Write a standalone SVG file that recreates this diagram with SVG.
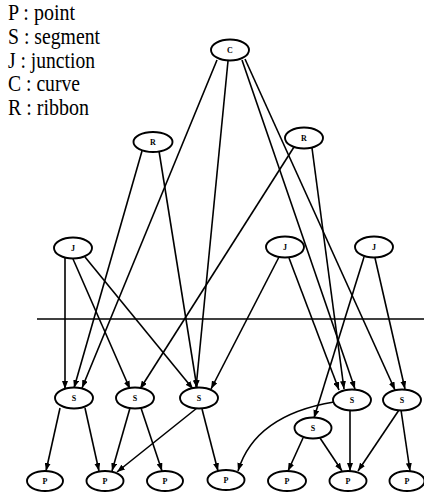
<svg xmlns="http://www.w3.org/2000/svg" width="424" height="495" viewBox="0 0 424 495">
<style>
.legend{font-family:"Liberation Serif","Times New Roman",serif;font-size:23px;fill:#000}
.node ellipse{fill:#fff;stroke:#000;stroke-width:1.9}
.node text{font-family:"Liberation Serif","Times New Roman",serif;font-size:8px;font-weight:bold;text-anchor:middle;fill:#000}
.edges line,.edges path{stroke:#000;stroke-width:1.6;fill:none;marker-end:url(#ah)}
</style>
<defs>
<marker id="ah" markerUnits="userSpaceOnUse" markerWidth="8" markerHeight="6" refX="8" refY="3" orient="auto">
<path d="M0,0 L8,3 L0,6 Z" fill="#000"/>
</marker>
</defs>
<rect width="424" height="495" fill="#fff"/>
<g id="legend">
<text class="legend" x="8" y="19.5" textLength="67" lengthAdjust="spacingAndGlyphs">P : point</text>
<text class="legend" x="8" y="43.5" textLength="92" lengthAdjust="spacingAndGlyphs">S : segment</text>
<text class="legend" x="8" y="67.5" textLength="87" lengthAdjust="spacingAndGlyphs">J : junction</text>
<text class="legend" x="8" y="90.5" textLength="72" lengthAdjust="spacingAndGlyphs">C : curve</text>
<text class="legend" x="8" y="114.5" textLength="81" lengthAdjust="spacingAndGlyphs">R : ribbon</text>
</g>
<line id="divider" x1="37" y1="319" x2="424" y2="319" stroke="#000" stroke-width="1.7"/>
<g class="edges" id="connectors">
<line x1="217" y1="60" x2="82" y2="388"/>
<line x1="228" y1="61" x2="196" y2="388"/>
<line x1="242" y1="60" x2="355" y2="389"/>
<line x1="245" y1="59" x2="395" y2="390"/>
<line x1="142" y1="151" x2="74" y2="388"/>
<line x1="159" y1="151" x2="197" y2="388"/>
<line x1="294" y1="147" x2="140" y2="389"/>
<line x1="312" y1="148" x2="344" y2="389"/>
<line x1="65" y1="258" x2="65" y2="389"/>
<line x1="73" y1="259" x2="130" y2="389"/>
<line x1="85" y1="257" x2="193" y2="389"/>
<line x1="279" y1="257" x2="211" y2="389"/>
<line x1="289" y1="258" x2="339" y2="390"/>
<line x1="364" y1="257" x2="314" y2="418"/>
<line x1="375" y1="258" x2="405" y2="389"/>
<line x1="60" y1="408" x2="46" y2="471"/>
<line x1="85" y1="408" x2="99" y2="471"/>
<line x1="130" y1="408" x2="112" y2="471"/>
<line x1="141" y1="408" x2="162" y2="471"/>
<line x1="197" y1="408" x2="117" y2="472"/>
<line x1="202" y1="409" x2="218" y2="471"/>
<path d="M334,402 Q255,415 238,471"/>
<line x1="350" y1="410" x2="350" y2="471"/>
<line x1="303" y1="438" x2="288" y2="471"/>
<line x1="320" y1="438" x2="342" y2="471"/>
<line x1="399" y1="410" x2="358" y2="471"/>
<line x1="401" y1="410" x2="410" y2="471"/>
</g>
<g id="C" class="node"><ellipse cx="230" cy="50" rx="19" ry="10.5"/><text x="230" y="53">C</text></g>
<g id="R1" class="node"><ellipse cx="153" cy="142" rx="19.5" ry="10"/><text x="153" y="145">R</text></g>
<g id="R2" class="node"><ellipse cx="304" cy="138" rx="19" ry="10.5"/><text x="304" y="141">R</text></g>
<g id="J1" class="node"><ellipse cx="73" cy="248" rx="19" ry="10.5"/><text x="73" y="251">J</text></g>
<g id="J2" class="node"><ellipse cx="285" cy="247" rx="19" ry="10.5"/><text x="285" y="250">J</text></g>
<g id="J3" class="node"><ellipse cx="374" cy="247" rx="19" ry="10.5"/><text x="374" y="250">J</text></g>
<g id="S1" class="node"><ellipse cx="74" cy="398" rx="19" ry="10.5"/><text x="74" y="401">S</text></g>
<g id="S2" class="node"><ellipse cx="135" cy="398" rx="19" ry="10.5"/><text x="135" y="401">S</text></g>
<g id="S3" class="node"><ellipse cx="199" cy="398" rx="19" ry="10.5"/><text x="199" y="401">S</text></g>
<g id="S4" class="node"><ellipse cx="352" cy="400" rx="19" ry="10.5"/><text x="352" y="403">S</text></g>
<g id="S5" class="node"><ellipse cx="402" cy="400" rx="19" ry="10.5"/><text x="402" y="403">S</text></g>
<g id="S6" class="node"><ellipse cx="313" cy="428" rx="18.5" ry="10.5"/><text x="313" y="431">S</text></g>
<g id="P1" class="node"><ellipse cx="45" cy="481" rx="18" ry="10"/><text x="45" y="484">P</text></g>
<g id="P2" class="node"><ellipse cx="105" cy="481" rx="18.5" ry="10"/><text x="105" y="484">P</text></g>
<g id="P3" class="node"><ellipse cx="165" cy="481" rx="18" ry="10"/><text x="165" y="484">P</text></g>
<g id="P4" class="node"><ellipse cx="226" cy="480" rx="18.5" ry="10"/><text x="226" y="483">P</text></g>
<g id="P5" class="node"><ellipse cx="287" cy="481" rx="19" ry="10"/><text x="287" y="484">P</text></g>
<g id="P6" class="node"><ellipse cx="348" cy="481" rx="18.5" ry="10"/><text x="348" y="484">P</text></g>
<g id="P7" class="node"><ellipse cx="407" cy="481" rx="17.5" ry="10"/><text x="407" y="484">P</text></g>
</svg>
